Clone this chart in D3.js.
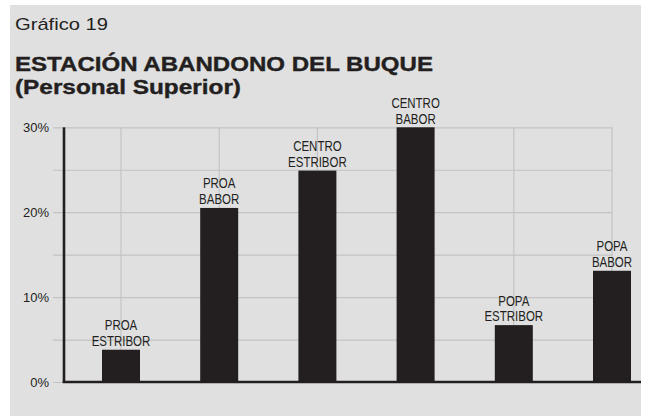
<!DOCTYPE html>
<html>
<head>
<meta charset="utf-8">
<script src="https://cdn.jsdelivr.net/npm/d3@7"></script>
<style>
  body { margin: 0; background: #fff; }
  svg { display: block; }
</style>
</head>
<body>
<div id="chart"></div>
<script>
'use strict';

// data
var categories = ["PROA ESTRIBOR", "PROA BABOR", "CENTRO ESTRIBOR", "CENTRO BABOR", "POPA ESTRIBOR", "POPA BABOR"];
var labelTop = ["PROA", "PROA", "CENTRO", "CENTRO", "POPA", "POPA"];
var labelBottom = ["ESTRIBOR", "BABOR", "ESTRIBOR", "BABOR", "ESTRIBOR", "BABOR"];
var values = [3.8, 20.5, 24.9, 30, 6.7, 13.1];
var gridValues = [0, 5, 10, 15, 20, 25, 30];
var tickLabels = { 0: "0%", 10: "10%", 20: "20%", 30: "30%" };

var ink = "#231f20";
var gridColor = "#c3c3c3";
var panelColor = "#e0e0e0";

var W = 645, H = 416;

var svg = d3.select("#chart").append("svg")
  .attr("width", W)
  .attr("height", H);

// grey panel
svg.append("rect")
  .attr("x", 10).attr("y", 5)
  .attr("width", 631).attr("height", H - 5)
  .attr("fill", panelColor);

// titles
svg.append("text")
  .attr("x", 15).attr("y", 30)
  .attr("textLength", 93).attr("lengthAdjust", "spacingAndGlyphs")
  .style("font-family", "'Liberation Sans', Arial, sans-serif")
  .style("font-size", "17px")
  .attr("fill", ink)
  .text("Gráfico 19");

svg.append("text")
  .attr("x", 15).attr("y", 71)
  .attr("textLength", 418).attr("lengthAdjust", "spacingAndGlyphs")
  .style("font-family", "'Liberation Sans', Arial, sans-serif")
  .style("font-size", "21px")
  .style("font-weight", "bold")
  .attr("fill", ink)
  .attr("stroke", ink).attr("stroke-width", 0.4)
  .text("ESTACIÓN ABANDONO DEL BUQUE");

svg.append("text")
  .attr("x", 15).attr("y", 94)
  .attr("textLength", 226).attr("lengthAdjust", "spacingAndGlyphs")
  .style("font-family", "'Liberation Sans', Arial, sans-serif")
  .style("font-size", "21px")
  .style("font-weight", "bold")
  .attr("fill", ink)
  .attr("stroke", ink).attr("stroke-width", 0.4)
  .text("(Personal Superior)");

// scales
var x = d3.scalePoint().domain(categories).range([121, 612]);
var y = d3.scaleLinear().domain([0, 30]).range([382, 127.3]);
var barWidth = 38;
var axisX = 64, gridLeft = 53;

// horizontal grid + tick labels
var yAxis = d3.axisLeft(y)
  .tickValues(gridValues)
  .tickSizeInner(-(x.range()[1] - gridLeft))
  .tickSizeOuter(0)
  .tickPadding(4)
  .tickFormat(function(d){ return tickLabels[d] || ""; });

var gy = svg.append("g")
  .attr("transform", "translate(" + gridLeft + ",0)")
  .call(yAxis);
gy.select(".domain").remove();
gy.selectAll(".tick line").attr("stroke", gridColor).attr("stroke-width", 1.2);
gy.selectAll(".tick text")
  .attr("fill", ink)
  .style("font-family", "'Liberation Sans', Arial, sans-serif")
  .style("font-size", "13px");

// vertical grid
svg.append("g").selectAll("line")
  .data(categories)
  .enter().append("line")
  .attr("x1", function(d){ return x(d); })
  .attr("x2", function(d){ return x(d); })
  .attr("y1", y(30))
  .attr("y2", y(0))
  .attr("stroke", gridColor)
  .attr("stroke-width", 1.2);

// bars
svg.append("g").selectAll("rect")
  .data(values)
  .enter().append("rect")
  .attr("x", function(d, i){ return x(categories[i]) - barWidth / 2; })
  .attr("y", function(d){ return y(d); })
  .attr("width", barWidth)
  .attr("height", function(d){ return y(0) - y(d); })
  .attr("fill", ink);

// bar labels (condensed look: squeeze the glyphs)
var squeeze = 0.74;
var lab = svg.append("g")
  .style("font-family", "'Liberation Sans', Arial, sans-serif")
  .style("font-size", "15.5px")
  .attr("fill", ink)
  .attr("text-anchor", "middle");

function condense(sel){
  sel.each(function(){
    var w = this.getComputedTextLength();
    d3.select(this)
      .attr("textLength", w * squeeze)
      .attr("lengthAdjust", "spacingAndGlyphs");
  });
}

lab.selectAll("text.top")
  .data(values)
  .enter().append("text")
  .attr("class", "top")
  .attr("x", function(d, i){ return x(categories[i]); })
  .attr("y", function(d){ return y(d) - 19.5; })
  .text(function(d, i){ return labelTop[i]; })
  .call(condense);

lab.selectAll("text.bottom")
  .data(values)
  .enter().append("text")
  .attr("class", "bottom")
  .attr("x", function(d, i){ return x(categories[i]); })
  .attr("y", function(d){ return y(d) - 3.8; })
  .text(function(d, i){ return labelBottom[i]; })
  .call(condense);

// axis lines
svg.append("line")
  .attr("x1", axisX).attr("x2", axisX)
  .attr("y1", y(30)).attr("y2", y(0) + 1)
  .attr("stroke", ink)
  .attr("stroke-width", 2.6);

svg.append("line")
  .attr("x1", axisX - 1.3).attr("x2", 641)
  .attr("y1", y(0)).attr("y2", y(0))
  .attr("stroke", ink)
  .attr("stroke-width", 2.6);
</script>
</body>
</html>
